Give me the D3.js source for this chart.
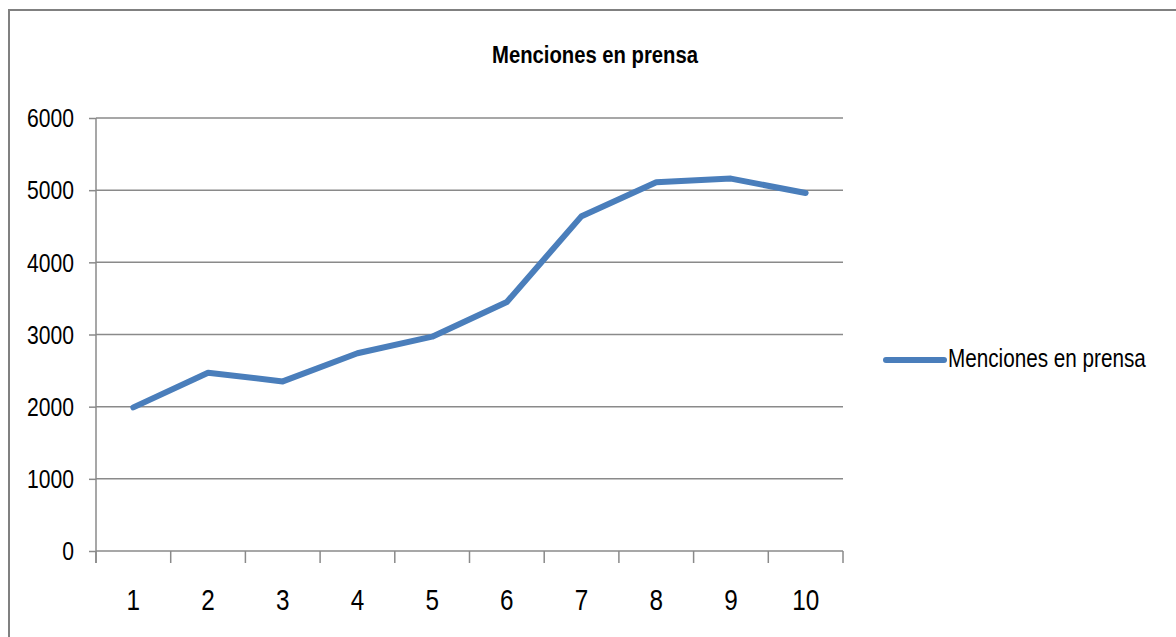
<!DOCTYPE html>
<html>
<head>
<meta charset="utf-8">
<script src="https://cdn.jsdelivr.net/npm/d3@7"></script>
<style>
  body { margin: 0; background: #fff; }
  text { font-family: "Liberation Sans", sans-serif; fill: #000; }
</style>
</head>
<body>
<div id="chart"></div>
<script>
// datos
const categories = ['1', '2', '3', '4', '5', '6', '7', '8', '9', '10'];
const seriesName = 'Menciones en prensa';
const values = [1990, 2470, 2350, 2740, 2970, 3450, 4640, 5110, 5160, 4960];
const yTicks = [0, 1000, 2000, 3000, 4000, 5000, 6000];

const width = 1176;
const height = 637;
const plot = { left: 96, right: 843, top: 118, bottom: 551 };
const gridColor = '#8a8a8a';
const lineColor = '#4a7ebb';

// estrecha el texto (imitando una fuente condensada)
function narrow(sel, k) {
    sel.each(function () {
        const w = this.getComputedTextLength();
        d3.select(this)
            .attr('textLength', w * k)
            .attr('lengthAdjust', 'spacingAndGlyphs');
    });
}

// escala horizontalmente un texto ya estilizado hasta un ancho dado
function fitWidth(sel, w) {
    sel.each(function () {
        const natural = this.getComputedTextLength();
        d3.select(this).attr('transform', `scale(${w / natural},1)`);
    });
}

const svg = d3.select('#chart').append('svg')
    .attr('width', width)
    .attr('height', height);

// marco exterior
svg.append('path')
    .attr('d', `M9,${height} V10 H${width}`)
    .attr('fill', 'none')
    .attr('stroke', '#808080')
    .attr('stroke-width', 2);

const x = d3.scaleBand()
    .domain(categories)
    .range([plot.left, plot.right]);

const y = d3.scaleLinear()
    .domain([0, 6000])
    .range([plot.bottom, plot.top]);

// líneas de cuadrícula
svg.append('g')
    .selectAll('line')
    .data(yTicks.filter(d => d > 0))
    .enter().append('line')
    .attr('x1', plot.left)
    .attr('x2', plot.right)
    .attr('y1', d => y(d))
    .attr('y2', d => y(d))
    .attr('stroke', gridColor)
    .attr('stroke-width', 1.5);

// eje Y
const yAxis = svg.append('g')
    .attr('transform', `translate(${plot.left},0)`)
    .call(d3.axisLeft(y).tickValues(yTicks).tickFormat(d3.format('d'))
        .tickSize(7).tickPadding(15).tickSizeOuter(0));

yAxis.select('.domain').remove();
yAxis.append('line')
    .attr('x1', 0).attr('x2', 0)
    .attr('y1', plot.top).attr('y2', plot.bottom + 12)
    .attr('stroke', gridColor).attr('stroke-width', 1.5);
yAxis.selectAll('.tick line').attr('stroke', gridColor).attr('stroke-width', 1.5);
yAxis.selectAll('.tick text')
    .style('font-size', '25px')
    .attr('dy', '0.35em')
    .call(narrow, 0.845);

// eje X con marcas entre categorías
const xAxis = svg.append('g')
    .attr('transform', `translate(0,${plot.bottom})`);

xAxis.append('line')
    .attr('x1', plot.left).attr('x2', plot.right)
    .attr('stroke', gridColor).attr('stroke-width', 1.5);

const bounds = categories.map(c => x(c)).concat([plot.right]);
xAxis.selectAll('.tk')
    .data(bounds)
    .enter().append('line')
    .attr('class', 'tk')
    .attr('x1', d => d).attr('x2', d => d)
    .attr('y1', 0).attr('y2', 12)
    .attr('stroke', gridColor).attr('stroke-width', 1.5);

xAxis.selectAll('.lbl')
    .data(categories)
    .enter().append('text')
    .attr('class', 'lbl')
    .attr('x', d => x(d) + x.bandwidth() / 2)
    .attr('y', 59)
    .attr('text-anchor', 'middle')
    .style('font-size', '30px')
    .text(d => d)
    .call(narrow, 0.81);

// serie
const line = d3.line()
    .x((d, i) => x(categories[i]) + x.bandwidth() / 2)
    .y(d => y(d));

svg.append('path')
    .datum(values)
    .attr('d', line)
    .attr('fill', 'none')
    .attr('stroke', lineColor)
    .attr('stroke-width', 6)
    .attr('stroke-linejoin', 'round')
    .attr('stroke-linecap', 'round');

// título
svg.append('g').attr('transform', 'translate(595,63)')
    .append('text')
    .attr('text-anchor', 'middle')
    .style('font-size', '23px')
    .style('font-weight', 'bold')
    .text(seriesName)
    .call(fitWidth, 206);

// leyenda
const legend = svg.append('g').attr('transform', 'translate(886,360)');
legend.append('line')
    .attr('x1', 0).attr('x2', 58)
    .attr('stroke', lineColor)
    .attr('stroke-width', 6)
    .attr('stroke-linecap', 'round');
legend.append('g').attr('transform', 'translate(62,7)')
    .append('text')
    .style('font-size', '25px')
    .text(seriesName)
    .call(fitWidth, 198);
</script>
</body>
</html>
